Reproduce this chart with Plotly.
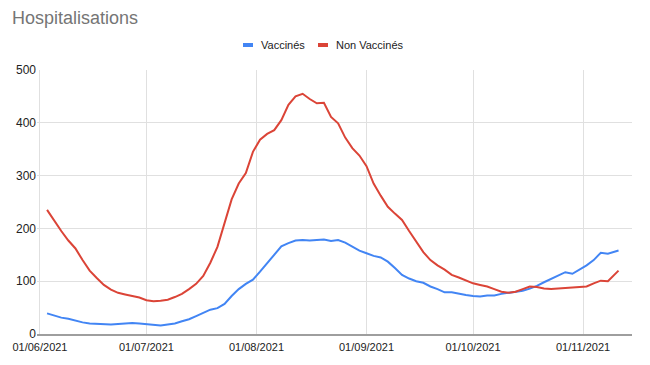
import pandas as pd
import plotly.graph_objects as go

dates = list(pd.date_range("2021-06-03", "2021-11-10", freq="2D")) + [pd.Timestamp("2021-11-11")]

vaccines = [39, 35, 31, 29, 25, 22, 20, 19, 18, 18,
            19, 20, 21, 20, 19, 17, 16, 18, 20, 24,
            28, 34, 40, 46, 49, 57, 72, 85, 95, 103,
            118, 134, 150, 166, 172, 177, 178, 177, 178, 179,
            176, 178, 173, 165, 158, 153, 148, 145, 137, 125,
            112, 105, 100, 97, 90, 85, 79, 79, 76, 74,
            72, 71, 73, 73, 76, 78, 80, 82, 86, 91,
            98, 104, 110, 117, 114, 122, 130, 140, 154, 152,
            156, 158]

non_vaccines = [235, 214, 195, 177, 162, 140, 120, 106, 93, 84,
                78, 75, 72, 69, 64, 62, 63, 65, 70, 76,
                85, 95, 110, 135, 165, 212, 255, 285, 305, 345,
                368, 379, 386, 405, 434, 450, 455, 445, 437, 438,
                411, 399, 372, 352, 338, 318, 285, 262, 241, 228,
                216, 195, 175, 155, 140, 130, 122, 112, 107, 101,
                96, 93, 90, 85, 80, 78, 80, 85, 90, 89,
                86, 85, 86, 86, 88, 89, 90, 96, 101, 100,
                113, 120]

series_names = ["Vaccinés", "Non Vaccinés"]
series_colors = ["#4285f4", "#db4437"]

tick_dates = ["2021-06-01", "2021-07-01", "2021-08-01", "2021-09-01", "2021-10-01", "2021-11-01"]
tick_labels = ["01/06/2021", "01/07/2021", "01/08/2021", "01/09/2021", "01/10/2021", "01/11/2021"]
y_ticks = [0, 100, 200, 300, 400, 500]

# page is offset by the browser's 8px body margin; figure sized to fit the 650x365 window
W, H = 642, 357
L, T, PW, PH = 29, 62, 595, 264
R, B = W - L - PW, H - T - PH

fig = go.Figure()
for name, vals, col in zip(series_names, [vaccines, non_vaccines], series_colors):
    fig.add_trace(go.Scatter(x=dates, y=vals, mode="lines", name=name,
                             line=dict(color=col, width=2), showlegend=False))

# custom legend (Google-Charts style short bars)
def px_x(p):  # page x -> paper x
    return (p - 8 - L) / PW

def px_y(p):  # page y -> paper y
    return (T + PH - (p - 8)) / PH

leg_y = 45
legend_items = [(243, 259), (318, 334)]
for (bar_x, text_x), name, col in zip(legend_items, series_names, series_colors):
    fig.add_shape(type="rect", xref="paper", yref="paper",
                  x0=px_x(bar_x), x1=px_x(bar_x + 10), y0=px_y(leg_y + 2), y1=px_y(leg_y - 2),
                  fillcolor=col, line=dict(width=0))
    fig.add_annotation(text=name, xref="paper", yref="paper", x=px_x(text_x), y=px_y(leg_y),
                       xanchor="left", yanchor="middle", showarrow=False,
                       font=dict(size=11, color="#222222"))

fig.update_layout(
    width=W, height=H,
    margin=dict(l=L, r=R, t=T, b=B, autoexpand=False),
    paper_bgcolor="white", plot_bgcolor="white",
    font=dict(family="Arial, Liberation Sans, sans-serif", size=12, color="#222222"),
    title=dict(text="Hospitalisations", x=4 / W, xanchor="left", y=1 - 10 / H, yanchor="middle",
               font=dict(size=18, color="#757575", family="Arial, Liberation Sans, sans-serif")),
    showlegend=False,
    xaxis=dict(range=["2021-05-31 04:00", "2021-11-14 19:00"], tickvals=tick_dates, ticktext=tick_labels,
               showgrid=True, gridcolor="#e0e0e0", gridwidth=1, showline=True, linecolor="#9e9e9e",
               linewidth=2, ticks="", zeroline=False, ticklabelstandoff=2, automargin=False,
               tickfont=dict(size=11, color="#222222")),
    yaxis=dict(range=[0, 500], tickvals=y_ticks, showgrid=True, gridcolor="#e0e0e0", gridwidth=1,
               zeroline=False, showline=False, ticks="", automargin=False,
               tickfont=dict(size=12, color="#222222")),
)

fig.write_html("out.html")
